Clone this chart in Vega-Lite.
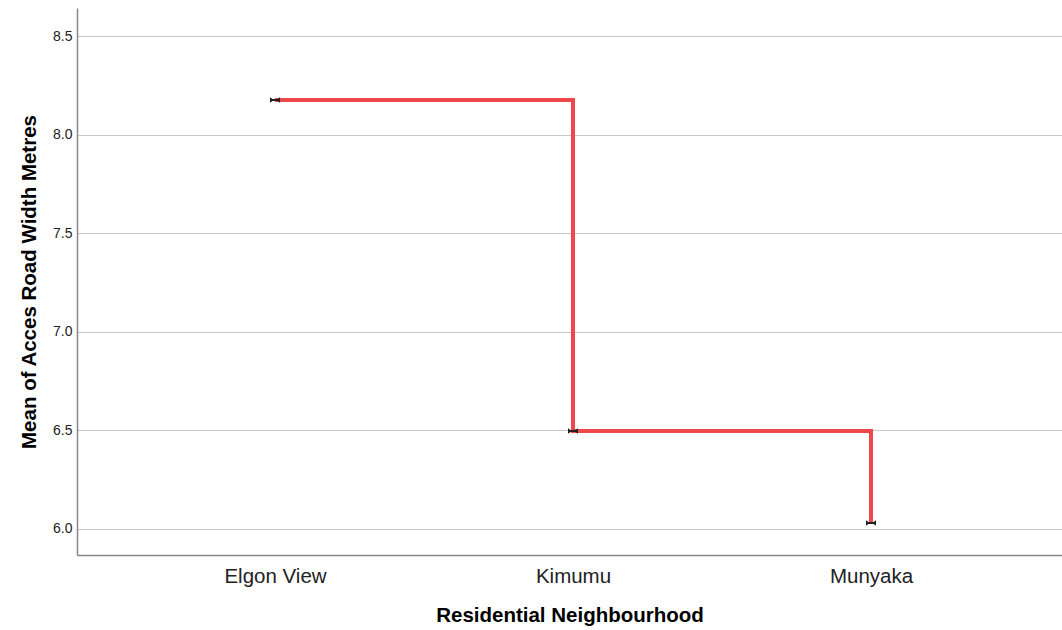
{
  "$schema": "https://vega.github.io/schema/vega-lite/v6.json",
  "width": 985,
  "height": 547,
  "autosize": {"type": "none"},
  "padding": {"left": 77, "top": 8, "right": 0, "bottom": 75},
  "background": "white",
  "config": {"view": {"stroke": null}, "font": "Liberation Sans"},
  "data": {"values": [
    {"hood": "Elgon View", "mean": 8.175},
    {"hood": "Kimumu", "mean": 6.497},
    {"hood": "Munyaka", "mean": 6.03}
  ]},
  "encoding": {
    "x": {"field": "hood", "type": "ordinal", "sort": null,
      "scale": {"type": "point", "padding": 0.6527, "align": 0.509},
      "axis": {"title": "Residential Neighbourhood", "titleFont": "Liberation Sans", "titleFontSize": 20.5, "titleFontWeight": "bold", "titleColor": "#000", "titlePadding": 19,
        "labelFontSize": 20.5, "labelColor": "#222", "labelAngle": 0, "labelPadding": 11, "ticks": false, "domainColor": "#888", "domainWidth": 1.5, "grid": false}},
    "y": {"field": "mean", "type": "quantitative",
      "scale": {"domain": [5.868, 8.642], "nice": false, "zero": false},
      "axis": {"title": "Mean of Acces Road Width Metres", "titleFont": "Liberation Sans", "titleFontSize": 20.5, "titleFontWeight": "bold", "titleColor": "#000", "titlePadding": 13,
        "values": [6.0, 6.5, 7.0, 7.5, 8.0, 8.5], "format": ".1f", "labelFontSize": 14, "labelColor": "#222", "labelPadding": 5, "ticks": false,
        "domainColor": "#888", "domainWidth": 1.5, "grid": true, "gridColor": "#c8c8c8", "gridWidth": 1.2}}
  },
  "layer": [
    {"mark": {"type": "line", "interpolate": "step-after", "color": "#f0474c", "strokeWidth": 4}},
    {"mark": {"type": "point", "shape": "M-1,-0.55L-1,0.55L-0.5,0.2L0.5,0.2L1,0.55L1,-0.55L0.5,-0.2L-0.5,-0.2Z", "filled": true, "color": "#222", "size": 100, "opacity": 1}}
  ]
}
